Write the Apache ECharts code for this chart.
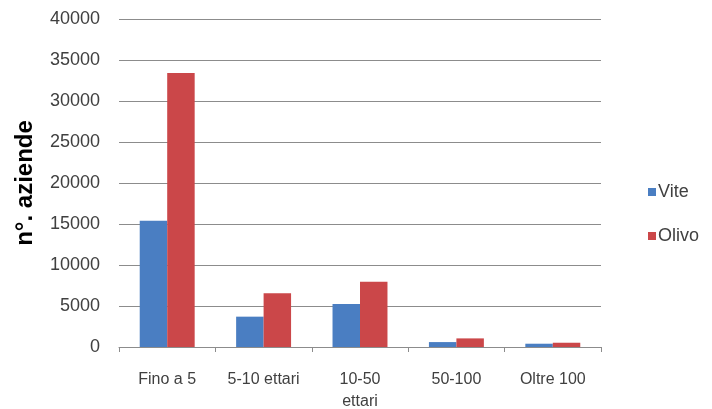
<!DOCTYPE html>
<html><head><meta charset="utf-8">
<script src="https://cdn.jsdelivr.net/npm/echarts@6/dist/echarts.min.js"></script>
<style>html,body{margin:0;padding:0;background:#fff}#c{width:712px;height:409px}</style>
</head><body><div id="c"></div>
<script>
const categories = ['Fino a 5', '5-10 ettari', '10-50\nettari', '50-100', 'Oltre 100'];
const vite = [15400, 3700, 5250, 600, 400];
const olivo = [33400, 6550, 7950, 1050, 520];
const yTicks = [0, 5000, 10000, 15000, 20000, 25000, 30000, 35000, 40000];

const chart = echarts.init(document.getElementById('c'));
const font = 'Liberation Sans';
chart.setOption({
  animation: false,
  grid: {left: 119, right: 111, top: 19, bottom: 62, outerBoundsMode: 'none', containLabel: false},
  legend: {
    orient: 'vertical', left: 643, top: 178, itemGap: 26,
    itemWidth: 8, itemHeight: 8, icon: 'rect', itemStyle: {borderWidth: 0},
    textStyle: {fontFamily: font, fontSize: 18, color: '#404040', padding: [0, 0, 0, -3]},
    data: ['Vite', 'Olivo']
  },
  xAxis: {
    type: 'category', data: categories,
    axisLine: {lineStyle: {color: '#8c8c8c'}},
    axisTick: {show: true, alignWithLabel: false, length: 5, lineStyle: {color: '#8c8c8c'}},
    axisLabel: {fontFamily: font, fontSize: 16, color: '#404040', margin: 22, interval: 0, lineHeight: 22}
  },
  yAxis: {
    type: 'value', min: yTicks[0], max: yTicks[yTicks.length - 1], interval: 5000,
    name: 'n°. aziende', nameLocation: 'middle', nameGap: 82,
    nameTextStyle: {fontFamily: font, fontSize: 24, fontWeight: 'bold', color: '#000'},
    axisLine: {show: false}, axisTick: {show: false},
    splitLine: {lineStyle: {color: '#8c8c8c'}},
    axisLabel: {fontFamily: font, fontSize: 18, color: '#404040', margin: 19, formatter: v => String(v)}
  },
  series: [
    {name: 'Vite', type: 'bar', data: vite, barGap: '0%', barCategoryGap: '43%', itemStyle: {color: '#4a7ec2'}},
    {name: 'Olivo', type: 'bar', data: olivo, barGap: '0%', barCategoryGap: '43%', itemStyle: {color: '#cb4749'}}
  ]
});
</script></body></html>
